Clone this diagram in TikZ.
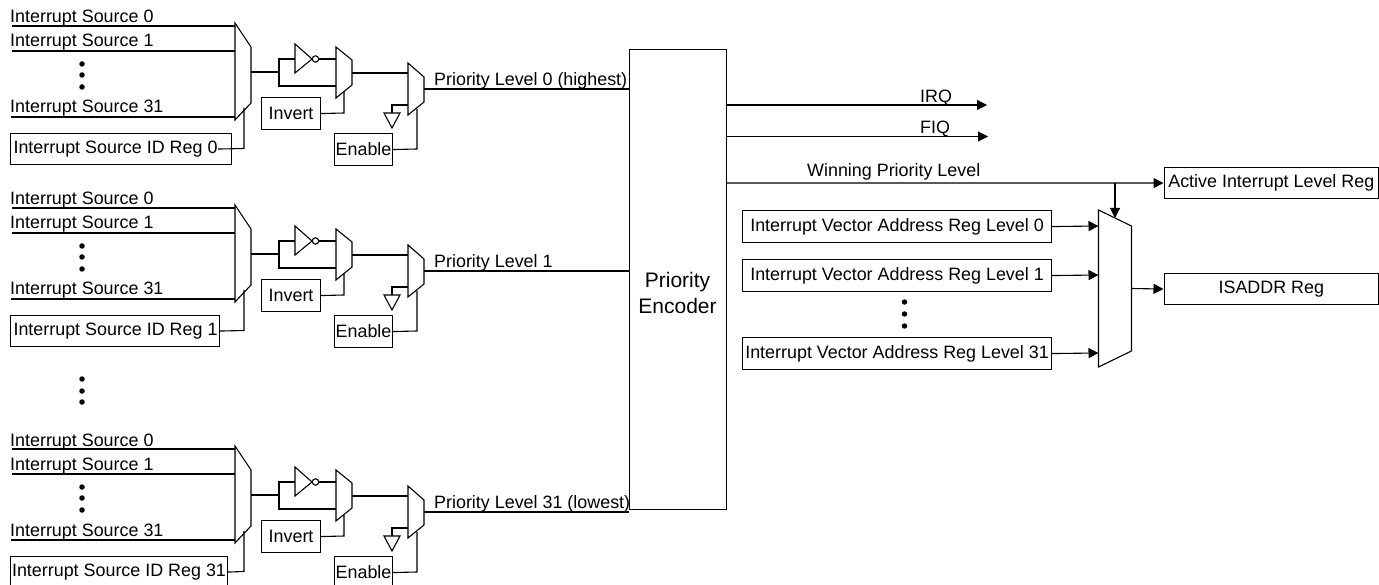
\documentclass[tikz,border=0pt]{standalone}
\usepackage{fontspec}
\setmainfont{Liberation Sans}
\usetikzlibrary{arrows.meta}
\tikzset{
  wire/.style={draw=black,line width=1.1pt},
  arrowwire/.style={wire,-{Triangle[length=10pt,width=10pt]}},
  shapeline/.style={draw=black,line width=1.1pt,fill=white,line join=miter},
  txt/.style={inner sep=0pt,font=\fontsize{17.9pt}{26pt}\selectfont},
  boxnode/.style={draw=black,line width=1.1pt,fill=white,inner sep=0pt,anchor=north west},
  lbl/.style={txt,anchor=base west},
  dotmark/.style={circle,fill=black,inner sep=0pt,minimum size=5.5pt}
}
\newcommand{\regbox}[6]{% name, x1, y1, w, h, text
  \node[boxnode,minimum width=#4pt,minimum height=#5pt,txt] (#1) at (#2,#3) {#6};}
\newcommand{\channel}[6]{% offset, id text, box width, suffix, text inset, wire start shift
  \begin{scope}[yshift=-#1pt]
    \coordinate (s0#4) at (12,26); \coordinate (m0#4) at (235,26);
    \coordinate (s1#4) at (12,51); \coordinate (m1#4) at (235,51);
    \coordinate (s2#4) at (11,117); \coordinate (m2#4) at (235,117);
    \draw[wire] (s0#4)--(m0#4); \draw[wire] (s1#4)--(m1#4); \draw[wire] (s2#4)--(m2#4);
    \node[lbl] (l0#4) at (10,23) {Interrupt Source 0};
    \node[lbl] (l1#4) at (10,47) {Interrupt Source 1};
    \node[lbl] (l2#4) at (10,113) {Interrupt Source 31};
    \node[dotmark] (d0#4) at (82,64) {};
    \node[dotmark] (d1#4) at (82,75) {};
    \node[dotmark] (d2#4) at (82,87) {};
    \draw[shapeline] (235,23)--(251,47)--(251,103)--(235,120)--cycle;
    \draw[wire] (251,72)--(279,72);
    \draw[wire] (295,59)--(279,59)--(279,86)--(336,86);
    \draw[shapeline] (295,44)--(295,73)--(312,59)--cycle;
    \draw[shapeline] (315.5,59) circle (3.2);
    \draw[wire] (319,59)--(336,59);
    \draw[shapeline] (336,47)--(352,60)--(352,85)--(336,98)--cycle;
    \draw[wire] (352,73)--(408,73);
    \draw[shapeline] (408,63)--(424,77)--(424,102)--(408,115)--cycle;
    \draw[wire] (424,89)--(629,89);
    \draw[wire] (392,113)--(392,105)--(408,105);
    \draw[shapeline] (384,113)--(400,113)--(392,128)--cycle;
    \regbox{inv#4}{261}{97}{59}{32}{Invert}
    \draw[wire] (inv#4.east)--(344,113)--(344,92);
    \regbox{en#4}{334}{133}{58}{32}{Enable}
    \draw[wire] (en#4.east)--(417,149)--(417,109);
    \regbox{id#4}{10}{133}{#3}{31}{\makebox[#3pt][l]{\hspace{#5pt}#2}}
    \draw[wire] ([xshift=-#6pt]id#4.east)--(244,148.5)--(244,108);
  \end{scope}}
\begin{document}
\begin{tikzpicture}[x=1pt,y=-1pt]
  \useasboundingbox (0,0) rectangle (1379,585);
  \fill[white] (0,0) rectangle (1379,585);
  \channel{0}{Interrupt Source ID Reg 0}{221}{a}{3}{14}
  \channel{182}{Interrupt Source ID Reg 1}{209}{b}{3}{0}
  \channel{423}{Interrupt Source ID Reg 31}{217}{c}{1.5}{0}
  \node[dotmark] (gd0) at (82,379) {};
  \node[dotmark] (gd1) at (82,391) {};
  \node[dotmark] (gd2) at (82,402) {};
  \node[lbl] (p0) at (434,85.5) {Priority Level 0 (highest)};
  \node[lbl] (p1) at (434,267.5) {Priority Level 1};
  \node[lbl] (p2) at (434,508.5) {Priority Level 31 (lowest)};
  \node[boxnode,minimum width=97pt,minimum height=460pt,txt] (enc) at (629,49) {};
  \node[txt,font=\fontsize{21pt}{26pt}\selectfont,align=center] (enclabel) at (677.5,293) {Priority\\Encoder};
  \coordinate (irqs) at (726,105); \coordinate (irqe) at (987,105);
  \coordinate (fiqs) at (726,136.5); \coordinate (fiqe) at (988,136.5);
  \draw[arrowwire] (irqs)--(irqe);
  \draw[arrowwire] (fiqs)--(fiqe);
  \node[lbl] (irq) at (920,102.5) {IRQ};
  \node[lbl] (fiq) at (920,133.5) {FIQ};
  \node[lbl] (win) at (807,176.5) {Winning Priority Level};
  \regbox{act}{1163.5}{167}{214.5}{31}{Active Interrupt Level Reg}
  \regbox{isa}{1163.5}{273}{214.5}{31}{ISADDR Reg}
  \regbox{v0}{742}{210}{309}{32}{Interrupt Vector Address Reg Level 0}
  \regbox{v1}{742}{259}{309}{32}{Interrupt Vector Address Reg Level 1}
  \regbox{v2}{742}{337}{309}{32}{Interrupt Vector Address Reg Level 31}
  \node[dotmark] (vd0) at (904.5,302) {};
  \node[dotmark] (vd1) at (904.5,314) {};
  \node[dotmark] (vd2) at (904.5,326) {};
  \draw[shapeline] (1098.5,210)--(1131.5,226)--(1131.5,351)--(1098.5,367)--cycle;
  \coordinate (wins) at (726,183);
  \draw[arrowwire] (wins)--(act.west);
  \draw[arrowwire] (1115,183)--(1115,218);
  \draw[arrowwire] (v0.east)--(1098.5,226);
  \draw[arrowwire] (v1.east)--(1098.5,275);
  \draw[arrowwire] (v2.east)--(1098.5,353);
  \draw[arrowwire] (1131.5,288.5)--(isa.west);
\end{tikzpicture}
\end{document}
